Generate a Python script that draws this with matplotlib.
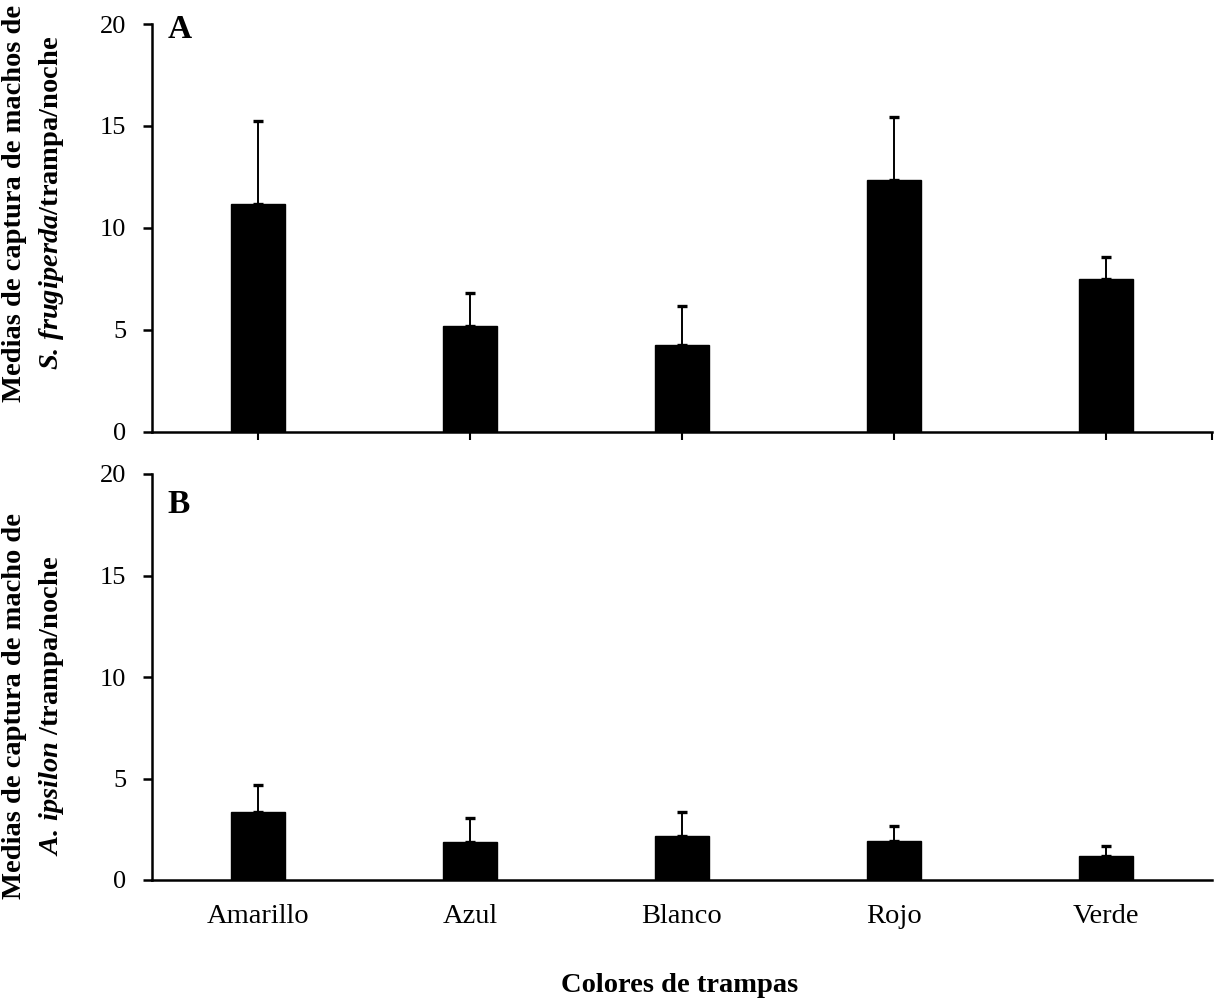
import matplotlib
matplotlib.use('Agg')
import matplotlib.pyplot as plt
import numpy as np

plt.rcParams['font.family'] = ['Liberation Serif', 'DejaVu Serif']
plt.rcParams['mathtext.fontset'] = 'custom'
plt.rcParams['mathtext.rm'] = 'Liberation Serif'
plt.rcParams['mathtext.it'] = 'Liberation Serif:italic'
plt.rcParams['mathtext.bf'] = 'Liberation Serif:bold'
plt.rcParams['mathtext.bfit'] = 'Liberation Serif:italic:bold'

# trap colours (x categories)
colores = ['Amarillo', 'Azul', 'Blanco', 'Rojo', 'Verde']

# A: S. frugiperda, mean and upper end of error bar
media_a = [11.2, 5.2, 4.25, 12.35, 7.5]
tope_a = [15.25, 6.8, 6.2, 15.45, 8.6]

# B: A. ipsilon
media_b = [3.35, 1.87, 2.17, 1.92, 1.18]
tope_b = [4.7, 3.05, 3.35, 2.66, 1.67]

W, H = 1215, 1001
fig = plt.figure(figsize=(W / 100, H / 100), dpi=100)

ax_a = fig.add_axes([152 / W, (H - 432) / H, 1060 / W, 408 / H])
ax_b = fig.add_axes([152 / W, (H - 880) / H, 1060 / W, 406 / H])

x = np.arange(len(colores))


def draw_panel(ax, medias, topes, letra, letra_y):
    medias = np.array(medias)
    topes = np.array(topes)
    ax.bar(x, medias, width=0.255, color='black', edgecolor='black', zorder=2)
    ax.errorbar(x, medias, yerr=[np.zeros_like(medias), topes - medias],
                fmt='none', ecolor='black', elinewidth=1.4, capsize=3.8,
                capthick=2.4, zorder=3)
    ax.set_xlim(-0.5, len(colores) - 0.5)
    ax.set_ylim(0, 20)
    ax.set_yticks([0, 5, 10, 15, 20])
    for s in ['top', 'right']:
        ax.spines[s].set_visible(False)
    for s in ['left', 'bottom']:
        ax.spines[s].set_linewidth(1.8)
    ax.tick_params(axis='y', direction='out', length=6.5, width=1.8,
                   labelsize=19, pad=12)
    ax.text(0.015, letra_y, letra, transform=ax.transAxes, fontsize=24,
            fontweight='bold', ha='left', va='baseline')


draw_panel(ax_a, media_a, tope_a, 'A', 0.966)
draw_panel(ax_b, media_b, tope_b, 'B', 0.904)

# top panel: tick marks only, no labels
ax_a.set_xticks(list(x) + [len(colores) - 0.5])
ax_a.tick_params(axis='x', direction='out', length=6, width=1.5,
                 labelbottom=False)

# bottom panel: labels only
ax_b.set_xticks(x)
ax_b.set_xticklabels(colores)
ax_b.tick_params(axis='x', length=0, labelsize=20.5, pad=17)

fig.text(34 / W, (H - 203) / H,
         'Medias de captura de machos de\n'
         r'$\mathbfit{S.\,frugiperda}$/trampa/noche',
         rotation=90, ha='center', va='center', multialignment='center',
         fontsize=20.5, fontweight='bold', linespacing=1.45)
fig.text(34 / W, (H - 706) / H,
         'Medias de captura de macho de\n'
         r'$\mathbfit{A.\,ipsilon}$ /trampa/noche',
         rotation=90, ha='center', va='center', multialignment='center',
         fontsize=20.5, fontweight='bold', linespacing=1.45)

fig.text(680 / W, (H - 985) / H, 'Colores de trampas', ha='center',
         va='center', fontsize=20.5, fontweight='bold')

fig.savefig('out.png', dpi=100)
